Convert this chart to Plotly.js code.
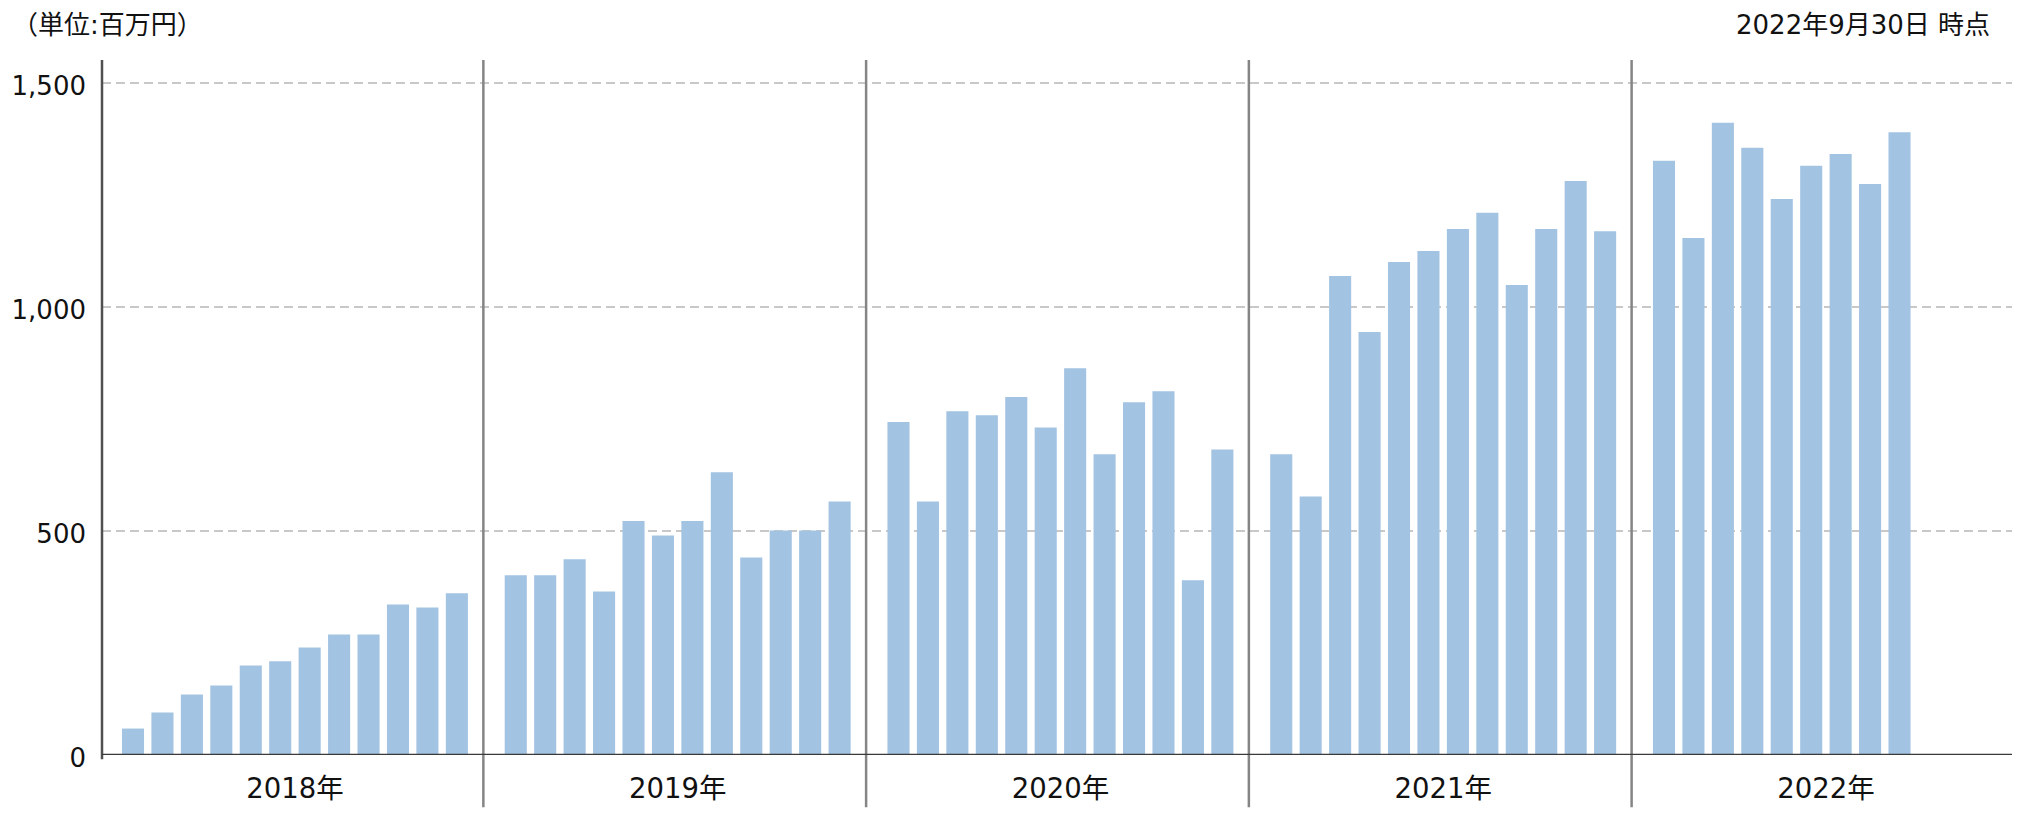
<!DOCTYPE html>
<html><head><meta charset="utf-8">
<script src="https://cdn.plot.ly/plotly-3.0.1.min.js"></script>
<style>html,body{margin:0;padding:0;background:#fff}#chart{width:2025px;height:823px}</style>
</head><body><div id="chart"></div>
<script>
// ---- data ----
const years = ['2018年', '2019年', '2020年', '2021年', '2022年'];
const sales2018 = [59, 95, 135, 155, 200, 209, 240, 269, 269, 336, 329, 361];
const sales2019 = [401, 401, 437, 365, 522, 490, 522, 631, 441, 501, 501, 566];
const sales2020 = [743, 566, 767, 758, 799, 731, 863, 671, 787, 812, 390, 682];
const sales2021 = [671, 577, 1069, 944, 1100, 1125, 1174, 1210, 1049, 1174, 1281, 1169];
const sales2022 = [1326, 1154, 1411, 1355, 1241, 1315, 1341, 1274, 1390];
const yTickValues = [0, 500, 1000, 1500];
const unitLabel = '（単位:百万円）';
const asOfLabel = '2022年9月30日 時点';

// ---- build ----
const seriesByYear = [sales2018, sales2019, sales2020, sales2021, sales2022];
const SLOTS = 13; // 12 months + one spacer per year
const xs = [], ys = [];
seriesByYear.forEach((arr, yi) => arr.forEach((v, m) => { xs.push(yi * SLOTS + m); ys.push(v); }));

const FONT = '"DejaVu Sans", "Noto Sans CJK JP", sans-serif';
const shapes = [];
// year separators
for (let yi = 1; yi < years.length; yi++) {
  shapes.push({type: 'line', xref: 'x', yref: 'paper', x0: yi * SLOTS - 1.1, x1: yi * SLOTS - 1.1,
    y0: -0.075, y1: 1, line: {color: '#858585', width: 2.5}, layer: 'above'});
}
// left frame
shapes.push({type: 'line', xref: 'paper', yref: 'paper', x0: 0, x1: 0, y0: -0.006, y1: 1,
  line: {color: '#505050', width: 2.5}, layer: 'above'});
// baseline (dark) + thin gray under-line
shapes.push({type: 'line', xref: 'paper', yref: 'y', x0: 0, x1: 1, y0: 0, y1: 0,
  line: {color: '#3a3a3a', width: 2.6}, layer: 'above'});
shapes.push({type: 'line', xref: 'paper', yref: 'y', ysizemode: 'pixel', yanchor: 0,
  x0: 0, x1: 1, y0: -3.3, y1: -3.3, line: {color: '#b0b0b0', width: 1.8}, layer: 'above'});

const trace = {
  type: 'bar', x: xs, y: ys, width: 0.75,
  marker: {color: '#a3c3e2', line: {width: 0}},
  hoverinfo: 'skip'
};

const layout = {
  width: 2025, height: 823,
  margin: {l: 102, r: 13, t: 60, b: 68, pad: 0},
  paper_bgcolor: '#ffffff', plot_bgcolor: '#ffffff',
  showlegend: false,
  font: {family: FONT, size: 26, color: '#111111'},
  xaxis: {
    range: [-1.053, 63.82], fixedrange: true,
    tickmode: 'array',
    tickvals: years.map((_, i) => i * SLOTS + 5.5),
    ticktext: years,
    showgrid: false, zeroline: false, showline: false, ticks: '',
    ticklabelstandoff: 14,
    tickfont: {family: FONT, size: 27.5, color: '#111111'}
  },
  yaxis: {
    range: [0, 1551], fixedrange: true,
    tickmode: 'array', tickvals: yTickValues, tickformat: ',d',
    showgrid: true, gridcolor: '#c8c8c8', gridwidth: 2, griddash: '9px,5px',
    zeroline: false, showline: false, ticks: '',
    ticklabelstandoff: 15, ticklabelshift: 3,
    tickfont: {family: FONT, size: 26, color: '#111111'}
  },
  shapes: shapes,
  annotations: [
    {text: unitLabel, xref: 'paper', yref: 'paper', x: 0, y: 1, xanchor: 'left', yanchor: 'middle',
     xshift: -92, yshift: 35, showarrow: false, font: {family: FONT, size: 26, color: '#111111'}},
    {text: asOfLabel, xref: 'paper', yref: 'paper', x: 1, y: 1, xanchor: 'right', yanchor: 'middle',
     xshift: -20, yshift: 35, showarrow: false, font: {family: FONT, size: 26, color: '#111111'}}
  ]
};

Plotly.newPlot('chart', [trace], layout, {displayModeBar: false, staticPlot: true});
</script>
</body></html>
